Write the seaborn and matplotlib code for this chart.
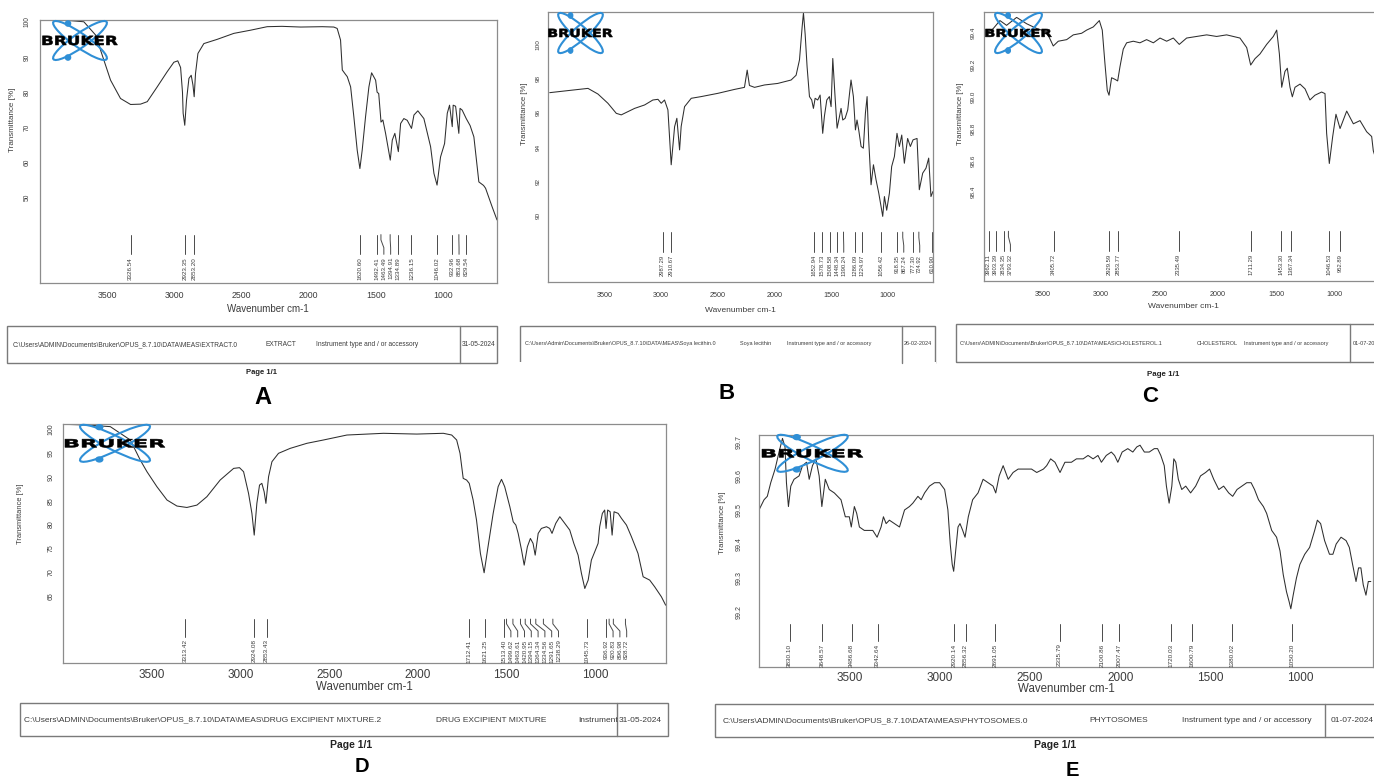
"""FTIR spectra A-E (Bruker OPUS print-outs) redrawn with seaborn"""

import matplotlib
matplotlib.use("Agg")
import matplotlib.pyplot as plt
import matplotlib.transforms as mtransforms
from matplotlib.patches import Ellipse, Circle, Rectangle, PathPatch
from matplotlib.textpath import TextPath
from matplotlib.font_manager import FontProperties, fontManager
import pandas as pd
import seaborn as sns

W, H = 1374, 782

# ---- data (wavenumber cm-1, transmittance %) ----
A_WN = [3996, 3800, 3674, 3574, 3550, 3475, 3401, 3326, 3252, 3202, 3128, 3054, 3004, 2975, 2954, 2940, 2935,
        2923, 2910, 2892, 2875, 2862, 2853, 2843, 2825, 2781, 2682, 2558, 2434, 2310, 2200, 2061, 1900, 1814,
        1789, 1764, 1751, 1730, 1714, 1689, 1665, 1640, 1620, 1603, 1578, 1553, 1533, 1503, 1492, 1480, 1466,
        1463, 1449, 1429, 1394, 1379, 1360, 1334, 1317, 1293, 1268, 1236, 1218, 1189, 1144, 1094, 1069, 1046,
        1020, 990, 970, 953, 933, 926, 908, 884, 875, 859, 829, 800, 772, 735, 700, 685, 636, 600]
A_TR = [100.5, 100.4, 100.0, 95.7, 92.0, 83.4, 78.2, 76.5, 76.6, 77.3, 81.5, 85.8, 88.5, 88.9, 87.0, 80.0, 74.0,
        70.6, 77.7, 83.9, 84.8, 82.0, 78.7, 85.3, 91.0, 93.8, 95.0, 96.7, 97.6, 98.6, 98.7, 98.5, 98.6, 98.5,
        98.1, 94.8, 86.3, 85.2, 84.4, 81.5, 73.0, 63.5, 58.3, 63.5, 73.0, 81.5, 85.5, 83.4, 80.0, 79.6, 73.0,
        71.5, 72.1, 68.3, 60.7, 66.4, 68.3, 63.1, 71.1, 72.5, 72.0, 69.7, 73.5, 74.7, 72.5, 64.5, 56.9, 53.6,
        61.6, 65.4, 74.0, 76.3, 70.2, 76.3, 76.0, 68.3, 75.4, 74.9, 72.5, 70.5, 67.3, 54.5, 53.5, 52.7, 47.4, 43.7]
A_PEAKS = [3326.54, 2923.35, 2853.20, 1620.60, 1492.41, 1463.49, 1394.91, 1334.89, 1236.15, 1046.02,
           932.96, 883.68, 829.54]

B_WN = [3985, 3824, 3647, 3559, 3471, 3397, 3353, 3294, 3235, 3147, 3074, 3029, 3000, 2971, 2941, 2912, 2882,
        2862, 2838, 2824, 2794, 2735, 2647, 2500, 2353, 2265, 2241, 2221, 2176, 2088, 1971, 1853, 1809, 1779,
        1756, 1744, 1729, 1712, 1691, 1671, 1656, 1641, 1618, 1597, 1574, 1559, 1538, 1515, 1500, 1485, 1465,
        1447, 1426, 1412, 1397, 1376, 1353, 1324, 1303, 1285, 1271, 1256, 1235, 1215, 1197, 1182, 1168, 1147,
        1126, 1103, 1079, 1059, 1044, 1029, 1009, 985, 965, 941, 918, 897, 876, 853, 824, 800, 776, 741, 721,
        691, 662, 638, 618, 600]
B_TR = [97.18, 97.3, 97.43, 97.1, 96.56, 95.97, 95.88, 96.07, 96.26, 96.46, 96.75, 96.79, 96.56, 96.75, 96.17,
        92.96, 95.19, 95.68, 93.83, 95.2, 96.36, 96.85, 96.95, 97.14, 97.37, 97.49, 98.5, 97.6, 97.49, 97.63,
        97.72, 97.92, 98.2, 99.1, 101.0, 101.85, 100.6, 98.7, 96.95, 96.75, 96.26, 96.85, 96.75, 97.04, 94.8,
        95.8, 96.75, 96.95, 96.36, 99.18, 96.95, 95.1, 95.78, 96.26, 95.58, 95.68, 96.17, 97.92, 96.95, 95.0,
        95.58, 95.0, 94.03, 93.93, 95.97, 96.95, 94.42, 91.79, 92.96, 92.08, 91.3, 90.53, 89.94, 91.1, 90.3,
        91.3, 92.86, 93.44, 94.8, 94.03, 94.7, 93.05, 94.5, 94.03, 94.42, 94.5, 91.5, 92.47, 92.76, 93.35,
        91.1, 91.4]
B_PEAKS = [2987.29, 2910.67, 1652.94, 1578.73, 1508.58, 1448.34, 1390.24, 1286.09, 1224.97, 1056.42,
           918.35, 867.24, 777.30, 724.92, 610.90]

C_WN = [3980, 3923, 3866, 3809, 3723, 3637, 3551, 3466, 3409, 3366, 3294, 3237, 3166, 3123, 3066, 3014, 2989,
        2966, 2946, 2931, 2909, 2880, 2857, 2837, 2809, 2780, 2723, 2666, 2609, 2551, 2494, 2437, 2380, 2329,
        2266, 2180, 2094, 2009, 1923, 1809, 1751, 1717, 1680, 1637, 1580, 1523, 1494, 1471, 1451, 1423, 1403,
        1380, 1360, 1337, 1294, 1251, 1209, 1166, 1109, 1080, 1066, 1043, 1014, 986, 951, 894, 837, 780, 723,
        680, 666, 640]
C_TR = [99.40, 99.43, 99.48, 99.45, 99.50, 99.46, 99.43, 99.41, 99.32, 99.35, 99.36, 99.39, 99.40, 99.42,
        99.44, 99.48, 99.42, 99.21, 99.04, 99.01, 99.12, 99.11, 99.10, 99.19, 99.30, 99.34, 99.35, 99.34,
        99.36, 99.34, 99.37, 99.35, 99.37, 99.33, 99.37, 99.38, 99.39, 99.38, 99.39, 99.37, 99.31, 99.20,
        99.24, 99.27, 99.33, 99.38, 99.42, 99.27, 99.06, 99.16, 99.18, 99.06, 99.00, 99.06, 99.08, 99.05,
        98.98, 99.01, 99.03, 99.02, 98.77, 98.58, 98.75, 98.89, 98.80, 98.91, 98.83, 98.85, 98.78, 98.75,
        98.66, 98.60]
C_PEAKS = [3962.11, 3903.39, 3834.35, 3793.32, 3405.72, 2929.59, 2853.77, 2335.49, 1711.29, 1453.30,
           1367.34, 1046.53, 952.89]

D_WN = [3998, 3867, 3735, 3622, 3566, 3528, 3472, 3415, 3359, 3303, 3246, 3190, 3115, 3039, 3006, 2983, 2955,
        2936, 2923, 2908, 2893, 2880, 2867, 2857, 2842, 2823, 2786, 2720, 2626, 2532, 2400, 2194, 2006, 1856,
        1809, 1781, 1762, 1744, 1725, 1710, 1688, 1669, 1647, 1626, 1604, 1575, 1547, 1528, 1510, 1481, 1462,
        1447, 1434, 1415, 1400, 1382, 1365, 1350, 1338, 1321, 1303, 1274, 1256, 1243, 1222, 1199, 1171, 1143,
        1120, 1096, 1077, 1058, 1039, 1021, 1002, 983, 974, 959, 946, 938, 929, 915, 904, 893, 870, 851, 823,
        795, 758, 729, 692, 664, 626, 602]
D_TR = [101.05, 100.9, 100.56, 97.76, 93.56, 91.1, 87.96, 85.16, 83.9, 83.6, 84.1, 85.86, 89.36, 91.8, 91.95,
        91.1, 86.56, 82.36, 77.8, 84.46, 88.3, 88.66, 86.9, 84.46, 90.06, 93.2, 94.96, 96.0, 97.06, 97.76,
        98.8, 99.16, 99.0, 99.16, 98.8, 97.76, 94.96, 89.7, 89.36, 88.66, 85.16, 80.96, 73.96, 69.9, 75.36,
        82.36, 87.96, 89.5, 87.96, 83.76, 80.6, 79.9, 78.16, 74.66, 71.5, 75.36, 77.1, 76.06, 73.6, 78.16,
        79.2, 79.56, 79.2, 78.16, 80.26, 81.66, 80.26, 78.86, 76.06, 73.6, 69.76, 66.6, 68.36, 72.56, 74.3,
        76.06, 79.56, 82.36, 83.06, 79.2, 83.06, 82.7, 77.8, 82.7, 82.36, 81.3, 79.9, 77.46, 73.96, 69.06,
        68.36, 66.96, 64.86, 63.1]
D_PEAKS = [3313.42, 2924.08, 2853.43, 1712.41, 1621.25, 1513.40, 1499.62, 1463.61, 1420.95, 1394.15,
           1364.34, 1334.56, 1291.65, 1238.29, 1045.73, 936.92, 920.83, 896.98, 828.72]

E_WN = [4000, 3972, 3954, 3935, 3911, 3889, 3870, 3856, 3848, 3837, 3824, 3806, 3778, 3759, 3737, 3722, 3704,
        3685, 3667, 3652, 3633, 3611, 3583, 3546, 3522, 3500, 3489, 3472, 3459, 3444, 3417, 3389, 3370, 3346,
        3324, 3311, 3296, 3278, 3250, 3222, 3194, 3167, 3148, 3120, 3102, 3083, 3056, 3028, 3000, 2972, 2954,
        2941, 2930, 2922, 2911, 2898, 2887, 2872, 2859, 2841, 2817, 2787, 2759, 2731, 2704, 2689, 2670, 2648,
        2620, 2593, 2565, 2528, 2491, 2462, 2425, 2407, 2385, 2361, 2333, 2306, 2270, 2242, 2205, 2178, 2150,
        2123, 2104, 2077, 2049, 2031, 2013, 1989, 1958, 1930, 1908, 1890, 1866, 1839, 1811, 1793, 1775, 1756,
        1744, 1729, 1714, 1703, 1692, 1678, 1659, 1637, 1610, 1582, 1555, 1527, 1505, 1482, 1454, 1427, 1399,
        1377, 1353, 1326, 1299, 1275, 1256, 1234, 1207, 1189, 1161, 1134, 1115, 1097, 1079, 1064, 1055, 1042,
        1024, 1005, 978, 951, 923, 908, 890, 868, 841, 822, 804, 777, 749, 731, 713, 694, 680, 667, 654, 639,
        626, 612]
E_TR = [99.50, 99.53, 99.54, 99.58, 99.62, 99.67, 99.71, 99.685, 99.58, 99.51, 99.57, 99.59, 99.60, 99.63,
        99.64, 99.59, 99.63, 99.65, 99.60, 99.51, 99.59, 99.56, 99.55, 99.53, 99.48, 99.48, 99.45, 99.51,
        99.49, 99.45, 99.44, 99.44, 99.44, 99.42, 99.45, 99.48, 99.46, 99.47, 99.46, 99.45, 99.50, 99.51,
        99.52, 99.54, 99.53, 99.55, 99.57, 99.58, 99.58, 99.56, 99.50, 99.40, 99.34, 99.32, 99.38, 99.45,
        99.46, 99.44, 99.42, 99.48, 99.53, 99.55, 99.59, 99.58, 99.57, 99.55, 99.60, 99.63, 99.59, 99.61,
        99.62, 99.62, 99.62, 99.61, 99.62, 99.63, 99.65, 99.64, 99.61, 99.64, 99.64, 99.65, 99.65, 99.66,
        99.65, 99.66, 99.64, 99.66, 99.67, 99.66, 99.64, 99.67, 99.68, 99.67, 99.685, 99.69, 99.67, 99.67,
        99.68, 99.68, 99.66, 99.63, 99.57, 99.52, 99.57, 99.65, 99.64, 99.59, 99.56, 99.57, 99.55, 99.57,
        99.60, 99.61, 99.62, 99.59, 99.56, 99.57, 99.55, 99.54, 99.56, 99.57, 99.58, 99.58, 99.56, 99.53,
        99.51, 99.49, 99.44, 99.42, 99.38, 99.31, 99.26, 99.23, 99.21, 99.25, 99.30, 99.34, 99.37, 99.39,
        99.44, 99.47, 99.46, 99.41, 99.37, 99.37, 99.40, 99.42, 99.41, 99.39, 99.34, 99.29, 99.33, 99.33,
        99.28, 99.25, 99.29, 99.29]
E_PEAKS = [3830.10, 3648.57, 3486.68, 3342.64, 2920.14, 2856.32, 2691.05, 2335.79, 2100.86, 2007.47,
           1720.03, 1600.79, 1380.02, 1050.20]

XTICKS = [3500, 3000, 2500, 2000, 1500, 1000]
A_YTICKS = [50, 60, 70, 80, 90, 100]
B_YTICKS = [90, 92, 94, 96, 98, 100]
C_YTICKS = [98.4, 98.6, 98.8, 99.0, 99.2, 99.4]
D_YTICKS = [65, 70, 75, 80, 85, 90, 95, 100]
E_YTICKS = [99.2, 99.3, 99.4, 99.5, 99.6, 99.7]

MEAS = "C:\\Users\\ADMIN\\Documents\\Bruker\\OPUS_8.7.10\\DATA\\MEAS\\"
INSTR = "Instrument type and / or accessory"
A_FOOT = [MEAS + "EXTRACT.0", "EXTRACT", INSTR, "31-05-2024"]
B_FOOT = [MEAS.replace("ADMIN", "Admin") + "Soya lecithin.0", "Soya lecithin", INSTR, "26-02-2024"]
C_FOOT = [MEAS + "CHOLESTEROL.1", "CHOLESTEROL", INSTR, "01-07-2024"]
D_FOOT = [MEAS + "DRUG EXCIPIENT MIXTURE.2", "DRUG EXCIPIENT MIXTURE", "Instrument", "31-05-2024"]
E_FOOT = [MEAS + "PHYTOSOMES.0", "PHYTOSOMES", INSTR, "01-07-2024"]

for wn, tr in [(A_WN, A_TR), (B_WN, B_TR), (C_WN, C_TR), (D_WN, D_TR), (E_WN, E_TR)]:
    assert len(wn) == len(tr)

# ---- style ----
sns.set_style("white")
plt.rcParams["font.family"] = ["Liberation Sans", "DejaVu Sans"]
_names = {f.name for f in fontManager.ttflist}
NARROW = "Liberation Sans Narrow" if "Liberation Sans Narrow" in _names else "Liberation Sans"
LINE, SPINE, TXT, BLUE = "#2e2e2e", "#8c8c8c", "#3c3c3c", "#2f8fd6"
PX = mtransforms.IdentityTransform()

fig = plt.figure(figsize=(W / 100, H / 100), dpi=100)


def spread(peaks, gap):
    # push crowded labels to the right, like the OPUS peak table does
    pos = []
    for p in sorted(peaks, reverse=True):
        pos.append(pos[-1] - gap if pos and pos[-1] - p < gap else p)
    return pos


def logo(cx, cy, sx, sy, tw, th):
    base = mtransforms.Affine2D().scale(sx, sy).translate(cx, H - cy)
    for ang in (35, -35):
        fig.add_artist(Ellipse((0, 0), 65, 14, angle=ang, fill=False, ec=BLUE, lw=1.5, transform=base))
    for dy in (17, -17):
        fig.add_artist(Circle((-12, dy), 2.6, color=BLUE, transform=base))
    tp = TextPath((0, 0), "BRUKER", size=10, prop=FontProperties(family="DejaVu Sans", weight="bold"))
    ext = tp.get_extents()
    t = (mtransforms.Affine2D().translate(-(ext.x0 + ext.x1) / 2, -(ext.y0 + ext.y1) / 2)
         .scale(tw / ext.width, th / ext.height).translate(cx, H - cy))
    fig.add_artist(PathPatch(tp, fc="black", ec="black", lw=0.4, transform=t))


def footer(rect, divider, ty, cols, texts, fs, page=None, letter=None, bottom=True):
    x0, y0, x1, y1 = rect
    fig.add_artist(Rectangle((x0, H - y1), x1 - x0, y1 - y0, fill=False, ec="#7a7a7a", lw=1.0,
                             transform=PX))
    if not bottom:
        fig.add_artist(Rectangle((x0 - 1, H - y1 - 2), x1 - x0 + 2, 3, fc="white", ec="none", transform=PX))
    fig.add_artist(plt.Line2D([divider, divider], [H - y0, H - y1], color="#7a7a7a", lw=1.0, transform=PX))
    for cx, s in zip(cols, texts):
        fig.text(cx / W, 1 - ty / H, s, fontsize=fs, color=TXT, ha="left", va="center", family=NARROW)
    if page:
        fig.text(page[0] / W, 1 - page[1] / H, "Page 1/1", fontsize=page[2], weight="bold",
                 ha="center", va="center", color="#222222")
    if letter:
        fig.text(letter[1] / W, 1 - letter[2] / H, letter[0], fontsize=letter[3], weight="bold",
                 ha="center", va="center", color="black", family=NARROW)


PANELS = [
    dict(wn=A_WN, tr=A_TR, peaks=A_PEAKS, yt=A_YTICKS, fmt="{:.0f}", box=(40, 20, 497, 283.3),
         ylim=(25.7, 100.5), sz=(6.3, 4.8, 7.0, 5.8, 4.5, 3.4, 4.2), ylab=(13, 120), xlab=(268, 309),
         logo=(80, 40.5, 1.0, 1.0, 75, 9.3)),
    dict(wn=B_WN, tr=B_TR, peaks=B_PEAKS, yt=B_YTICKS, fmt="{:.0f}", box=(548, 12, 933, 282),
         ylim=(86.1, 101.9), sz=(5.2, 4.6, 6.0, 5.6, 4.2, 5.0, 2.8), ylab=(525, 114), xlab=(740, 310),
         logo=(580.5, 33, 0.83, 1.03, 64, 8.3)),
    dict(wn=C_WN, tr=C_TR, peaks=C_PEAKS, yt=C_YTICKS, fmt="{:.1f}", box=(984.3, 12, 1381, 281),
         ylim=(97.84, 99.534), sz=(5.2, 4.6, 6.0, 5.6, 4.2, 5.0, 3.7), ylab=(960, 114), xlab=(1183, 307),
         logo=(1018.5, 33, 0.87, 1.03, 66, 8.0)),
    dict(wn=D_WN, tr=D_TR, peaks=D_PEAKS, yt=D_YTICKS, fmt="{:.0f}", box=(63.3, 424.3, 666, 663.3),
         ylim=(50.9, 101.05), sz=(8.5, 5.0, 8.3, 5.4, 4.6, 1.8, 4.0), ylab=(21, 514), xlab=(364, 687),
         logo=(115, 443.3, 1.3, 0.95, 100, 8.3)),
    dict(wn=E_WN, tr=E_TR, peaks=E_PEAKS, yt=E_YTICKS, fmt="{:.1f}", box=(759, 435, 1373, 666.7),
         ylim=(99.04, 99.72), sz=(8.5, 5.0, 8.3, 5.6, 4.6, 1.0, 9.4), ylab=(722.5, 523), xlab=(1066, 689),
         logo=(812.5, 453.3, 1.31, 0.95, 101, 8.3)),
]

for p in PANELS:
    x0, y0, x1, y1 = p["box"]
    xt, ytf, xl, yl, pk, xpad, ypad = p["sz"]
    ax = fig.add_axes([x0 / W, 1 - y1 / H, (x1 - x0) / W, (y1 - y0) / H])
    df = pd.DataFrame({"wavenumber": p["wn"], "transmittance": p["tr"]})
    sns.lineplot(data=df, x="wavenumber", y="transmittance", ax=ax, sort=False, estimator=None,
                 color=LINE, linewidth=0.75)
    ax.set_xlim(4000, 600)
    ax.set_ylim(*p["ylim"])
    ax.set_xticks(XTICKS)
    ax.set_xticklabels([str(t) for t in XTICKS])
    ax.set_yticks(p["yt"])
    ax.set_yticklabels([p["fmt"].format(v) for v in p["yt"]], rotation=90, va="center")
    ax.set_xlabel("")
    ax.set_ylabel("")
    ax.tick_params(axis="x", labelsize=xt, pad=xpad, length=2.5, width=0.6, colors=SPINE, labelcolor=TXT)
    ax.tick_params(axis="y", labelsize=ytf, pad=ypad, length=2.5, width=0.6, colors=SPINE, labelcolor=TXT)
    for s in ax.spines.values():
        s.set_color(SPINE)
        s.set_linewidth(0.9)

    # peak picking marks and labels
    trans = mtransforms.blended_transform_factory(ax.transData, ax.transAxes)
    gap = 6.8 * 3400 / (x1 - x0)
    for pv, lx in zip(sorted(p["peaks"], reverse=True), spread(p["peaks"], gap)):
        ax.plot([pv, pv, lx, lx], [0.185, 0.165, 0.135, 0.11], transform=trans, color="#4a4a4a", lw=0.7)
        ax.text(lx, 0.10, f"{pv:.2f}", transform=trans, rotation=90, ha="center", va="top",
                fontsize=pk, color=TXT, family=NARROW)

    fig.text(p["ylab"][0] / W, 1 - p["ylab"][1] / H, "Transmittance [%]", rotation=90, fontsize=yl,
             ha="center", va="center", color=TXT)
    fig.text(p["xlab"][0] / W, 1 - p["xlab"][1] / H, "Wavenumber cm-1", fontsize=xl,
             ha="center", va="center", color=TXT)
    logo(*p["logo"])

footer((7, 326, 497, 363), 460, 345, [13, 265, 316, 462], A_FOOT, 4.8,
       page=(262, 373, 5.5), letter=("A", 263, 398, 17))
footer((520, 326, 935, 363), 902, 343, [525, 740, 787, 904], B_FOOT, 4.0,
       letter=("B", 727, 393, 16), bottom=False)
footer((956, 324, 1395, 362), 1350, 343, [960, 1197, 1244, 1353], C_FOOT, 4.0,
       page=(1163, 374, 5.7), letter=("C", 1150, 397, 16))
footer((20, 703, 668, 736), 617, 720, [24, 436, 578, 619], D_FOOT, 6.0,
       page=(351, 745, 7.5), letter=("D", 362, 767, 14.5))
footer((715, 704, 1395, 737), 1325, 721, [723, 1089, 1182, 1331], E_FOOT, 6.0,
       page=(1055, 745, 7.5), letter=("E", 1072, 770, 14.5))

fig.savefig("out.png", dpi=100)
